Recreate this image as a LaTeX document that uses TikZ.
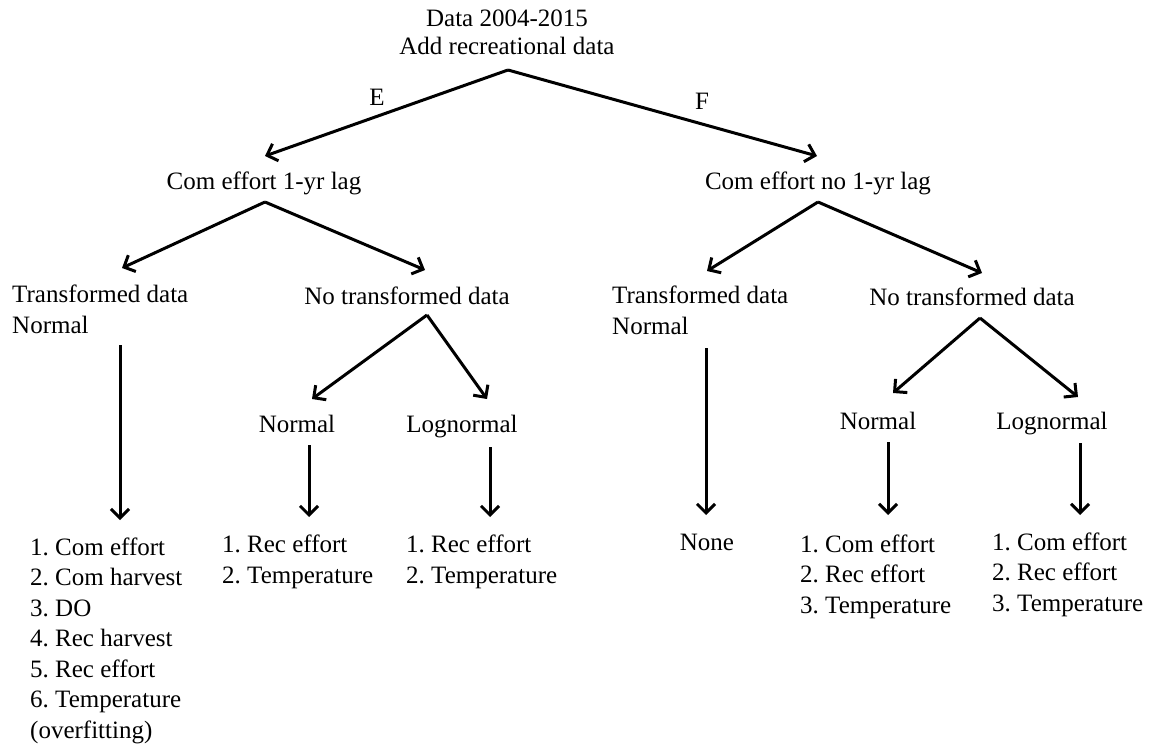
\documentclass[tikz,border=0pt]{standalone}
\usepackage{fontspec}
\setmainfont{Liberation Serif}
\usetikzlibrary{arrows.meta}
\frenchspacing
\begin{document}
\begin{tikzpicture}[x=1pt,y=-1pt,
  txt/.style={inner sep=0pt, font=\fontsize{25}{30.5}\selectfont},
  lst/.style={txt, align=left, anchor=base west},
  mid/.style={txt, anchor=base},
  arr/.style={line width=3pt, -{Straight Barb[length=9pt,width=18pt]}},
]
\useasboundingbox[fill=white] (0,0) rectangle (1154,746);

% top (base anchor = baseline of last line)
\node[mid, align=center, font=\fontsize{25}{28}\selectfont] (top) at (507,55) {Data 2004-2015\\Add recreational data};
\coordinate (a0) at (508,70);
\coordinate (tE) at (265,156);
\coordinate (tF) at (817,156);
\draw[arr] (a0) -- (tE);
\draw[arr] (a0) -- (tF);
\node[mid] (lE) at (377,106) {E};
\node[mid] (lF) at (702,110) {F};

% level 2
\node[mid] (cl) at (264,190) {Com effort 1-yr lag};
\node[mid] (cr) at (818,190) {Com effort no 1-yr lag};
\coordinate (b0) at (265,202);
\coordinate (b1) at (122,268);
\coordinate (b2) at (425,270);
\coordinate (c0) at (818,202);
\coordinate (c1) at (707,271);
\coordinate (c2) at (982,273);
\draw[arr] (b0) -- (b1);
\draw[arr] (b0) -- (b2);
\draw[arr] (c0) -- (c1);
\draw[arr] (c0) -- (c2);

% level 3
\node[lst] (tl) at (12,333) {Transformed data\\Normal};
\node[mid] (nl) at (407,304) {No transformed data};
\node[lst] (tr) at (612,334) {Transformed data\\Normal};
\node[mid] (nr) at (972,305) {No transformed data};
\coordinate (d0) at (427,315);
\coordinate (d1) at (312,399);
\coordinate (d2) at (487,399);
\coordinate (e0) at (980,318);
\coordinate (e1) at (893,393);
\coordinate (e2) at (1078,397);
\draw[arr] (d0) -- (d1);
\draw[arr] (d0) -- (d2);
\draw[arr] (e0) -- (e1);
\draw[arr] (e0) -- (e2);

% level 4
\node[mid] (nml) at (297,432) {Normal};
\node[mid] (lgl) at (462,432) {Lognormal};
\node[mid] (nmr) at (878,429) {Normal};
\node[mid] (lgr) at (1052,429) {Lognormal};

% vertical arrows
\coordinate (v1a) at (120,345); \coordinate (v1b) at (120,520);
\coordinate (v2a) at (309,445); \coordinate (v2b) at (309,517);
\coordinate (v3a) at (490,447); \coordinate (v3b) at (490,517);
\coordinate (v4a) at (706,348); \coordinate (v4b) at (706,515);
\coordinate (v5a) at (888,442); \coordinate (v5b) at (888,515);
\coordinate (v6a) at (1080,443); \coordinate (v6b) at (1080,515);
\draw[arr] (v1a) -- (v1b);
\draw[arr] (v2a) -- (v2b);
\draw[arr] (v3a) -- (v3b);
\draw[arr] (v4a) -- (v4b);
\draw[arr] (v5a) -- (v5b);
\draw[arr] (v6a) -- (v6b);

% results (base anchor = baseline of last line)
\node[lst] (r1) at (30,738) {1. Com effort\\2. Com harvest\\3. DO\\4. Rec harvest\\5. Rec effort\\6. Temperature\\(overfitting)};
\node[lst] (r2) at (222,583) {1. Rec effort\\2. Temperature};
\node[lst] (r3) at (406,583) {1. Rec effort\\2. Temperature};
\node[mid] (r4) at (707,550) {None};
\node[lst] (r5) at (800,613) {1. Com effort\\2. Rec effort\\3. Temperature};
\node[lst] (r6) at (992,611) {1. Com effort\\2. Rec effort\\3. Temperature};
\end{tikzpicture}
\end{document}
